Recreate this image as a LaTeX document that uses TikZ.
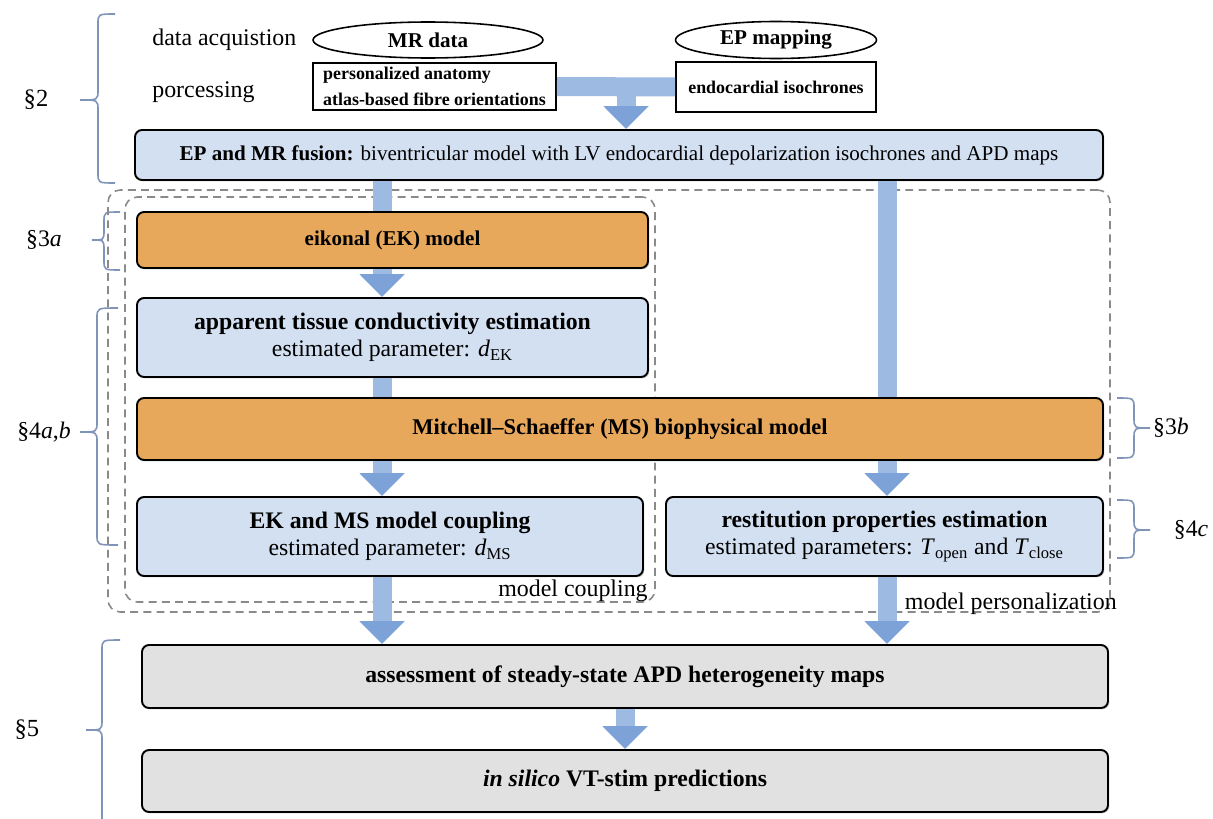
\documentclass[tikz,border=0pt]{standalone}
\usepackage{fontspec}
\setmainfont{Liberation Serif}
\usetikzlibrary{arrows.meta,fit,shapes.geometric,shadows}
\definecolor{lblue}{HTML}{D3E0F1}
\definecolor{orng}{HTML}{E8A85C}
\definecolor{lgray}{HTML}{E1E1E1}
\definecolor{barc}{HTML}{9DBAE3}
\definecolor{headc}{HTML}{7DA2D8}
\definecolor{brcc}{HTML}{8094B8}
\definecolor{dashc}{HTML}{8A8A8A}
\newcommand{\fs}[1]{\fontsize{#1}{#1}\selectfont}
\newcommand{\mybrace}[6]{\draw[brc] (#1,#4) .. controls (#2,#4) .. (#2,{#4+10}) -- (#2,{#5-10}) .. controls (#2,#5) .. (#3,#5) .. controls (#2,#5) .. (#2,{#5+10}) -- (#2,{#6-10}) .. controls (#2,#6) .. (#1,#6);}
\begin{document}
\begin{tikzpicture}[x=0.02cm,y=-0.02cm,
  box/.style={draw=black,line width=1.1pt,rounded corners=4pt,inner sep=0pt,
     drop shadow={shadow xshift=0.8pt,shadow yshift=-0.8pt,opacity=0.35}},
  bluebox/.style={box,fill=lblue},
  orbox/.style={box,fill=orng},
  graybox/.style={box,fill=lgray},
  plainbox/.style={draw=black,line width=1.1pt,inner sep=0pt,fill=white},
  oval/.style={ellipse,draw=black,line width=0.9pt,inner sep=0pt,fill=white},
  dbox/.style={draw=dashc,line width=0.9pt,dash pattern=on 4.5pt off 3pt,rounded corners=7pt,inner sep=0pt},
  brc/.style={draw=brcc,line width=0.9pt},
  barline/.style={draw=barc,line width=0.38cm},
  barrow/.style={barline,-{Triangle[width=0.88cm,length=0.46cm,color=headc]}},
  lab/.style={inner sep=0pt},
  txt/.style={inner sep=0pt,align=center}
]
\useasboundingbox (0,0) rectangle (1213,818);
\coordinate (cA) at (382,0);
\coordinate (cB) at (887,0);
\coordinate (cC) at (626,87);
\coordinate (cD) at (625,0);

% braces
\mybrace{115}{98}{80}{14}{100}{183}
\mybrace{120}{104}{92}{212}{240}{270}
\mybrace{118}{97}{80}{308}{432}{545}
\mybrace{120}{102}{86}{640}{730}{840}
\mybrace{1117}{1134}{1150}{398}{428}{458}
\mybrace{1117}{1134}{1150}{500}{530}{558}

\node[lab] (s2) at (36,100) {\fs{14}§2};
\node[lab] (s3a) at (44,240) {\fs{13.5}§3\textit{a}};
\node[lab] (s4ab) at (44,432) {\fs{13.5}§4\textit{a},\textit{b}};
\node[lab] (s5) at (27,730) {\fs{14}§5};
\node[lab] (s3b) at (1171,428) {\fs{13.5}§3\textit{b}};
\node[lab] (s4c) at (1191,530) {\fs{13.5}§4\textit{c}};

% top
\node[lab,anchor=west] (acq) at (152,40) {\fs{13.6}data acquistion};
\node[lab,anchor=west] (proc) at (152,92) {\fs{13.6}porcessing};
\node[oval,minimum width=4.6cm,minimum height=0.72cm] (mr) at (428,40) {\fs{12}\textbf{MR data}};
\node[oval,minimum width=4.02cm,minimum height=0.74cm] (ep) at (776,40) {\fs{12}\textbf{EP mapping}};
\node[plainbox,fit={(313,63)(556,110)}] (pers) {};
\node[txt,align=left] (perst) at (pers.center) {\fs{10.2}\textbf{personalized anatomy}\\[3pt]\fs{10.2}\textbf{atlas-based fibre orientations}};
\node[plainbox,fit={(676,62)(876,112)}] (endo) {};
\node[txt] (endot) at (endo.center) {\fs{10.2}\textbf{endocardial isochrones}};

% dashed groups
\node[dbox,fit={(108,190)(1110,612)}] (pgrp) {};
\node[dbox,fit={(125,197)(655,602)}] (cgrp) {};

% boxes
\node[bluebox,fit={(135,130)(1103,180)}] (fus) {};
\node[txt] (fust) at (fus.center) {\fs{12}\textbf{EP and MR fusion:} biventricular model with LV endocardial depolarization isochrones and APD maps};
\node[orbox,fit={(137,212)(648,268)}] (ek) {};
\node[txt] (ekt) at (ek.center) {\fs{12}\textbf{eikonal (EK) model}};
\node[bluebox,fit={(137,298)(648,377)}] (app) {};
\node[txt] (appt) at (app.center) {\fs{13.5}\textbf{apparent tissue conductivity estimation}\\[2pt]\fs{13.5}estimated parameter: \textit{d}\textsubscript{EK}};
\node[orbox,fit={(137,398)(1103,460)}] (ms) {};
\node[txt] (mst) at (ms.center) {\fs{12.8}\textbf{Mitchell–Schaeffer (MS) biophysical model}};
\node[bluebox,fit={(137,497)(643,576)}] (cpl) {};
\node[txt] (cplt) at (cpl.center) {\fs{13.5}\textbf{EK and MS model coupling}\\[2pt]\fs{13.5}estimated parameter: \textit{d}\textsubscript{MS}};
\node[bluebox,fit={(666,497)(1103,576)}] (rest) {};
\node[txt] (restt) at (rest.center) {\fs{13.5}\textbf{restitution properties estimation}\\[2pt]\fs{13.5}estimated parameters: \textit{T}\textsubscript{open} and \textit{T}\textsubscript{close}};
\node[graybox,fit={(142,645)(1108,708)}] (apd) {};
\node[txt] (apdt) at (apd.center) {\fs{13.5}\textbf{assessment of steady-state APD heterogeneity maps}};
\node[graybox,fit={(142,750)(1108,812)}] (vt) {};
\node[txt] (vtt) at (vt.center) {\fs{13.5}\textbf{\textit{in silico} VT-stim predictions}};

\node[lab,anchor=base east] (cglab) at (648,596) {\fs{13.6}model coupling};
\node[lab,anchor=base east] (pglab) at (1117,609) {\fs{13.6}model personalization};

% connectors
\draw[barline] (pers.east) -- (endo.west);
\draw[barrow] (cC) -- (fus.north -| cC);
\draw[barline] (fus.south -| cA) -- (ek.north -| cA);
\draw[barline] (fus.south -| cB) -- (ms.north -| cB);
\draw[barrow] (ek.south -| cA) -- (app.north -| cA);
\draw[barline] (app.south -| cA) -- (ms.north -| cA);
\draw[barrow] (ms.south -| cA) -- (cpl.north -| cA);
\draw[barrow] (ms.south -| cB) -- (rest.north -| cB);
\draw[barrow] (cpl.south -| cA) -- (apd.north -| cA);
\draw[barrow] (rest.south -| cB) -- (apd.north -| cB);
\draw[barrow] (apd.south -| cD) -- (vt.north -| cD);
\end{tikzpicture}
\end{document}
